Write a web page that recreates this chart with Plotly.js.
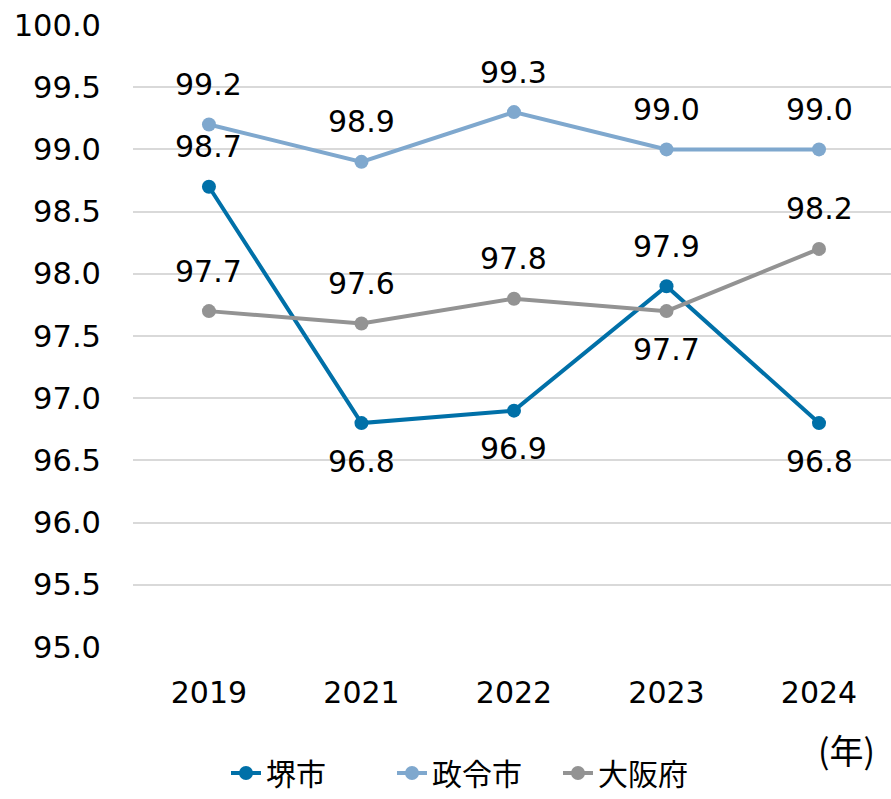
<!DOCTYPE html>
<html>
<head>
<meta charset="utf-8">
<script src="https://cdn.plot.ly/plotly-3.0.1.min.js"></script>
<style>html,body{margin:0;padding:0;background:#fff;}#chart{width:891px;height:799px;}</style>
</head>
<body>
<div id="chart"></div>
<script>
const years = ['2019', '2021', '2022', '2023', '2024'];
const seriesNames = ['堺市', '政令市', '大阪府'];
const sakai = [98.7, 96.8, 96.9, 97.9, 96.8];
const seirei = [99.2, 98.9, 99.3, 99.0, 99.0];
const osaka = [97.7, 97.6, 97.8, 97.7, 98.2];
const yTicks = [95.0, 95.5, 96.0, 96.5, 97.0, 97.5, 98.0, 98.5, 99.0, 99.5, 100.0];
const unitLabel = '(年)';

// label placement: 1 = above, -1 = below
const sides = [
  [1, -1, -1, 1, -1],
  [1, 1, 1, 1, 1],
  [1, 1, 1, -1, 1]
];

const colors = ['#0070A8', '#7FA8CE', '#939393'];
const allSeries = [sakai, seirei, osaka];
const FONT = 'DejaVu Sans, Verdana, sans-serif';
const JFONT = 'Noto Sans CJK JP, sans-serif';

const traces = allSeries.map((vals, i) => ({
  type: 'scatter',
  mode: 'lines+markers',
  name: seriesNames[i],
  x: years,
  y: vals,
  line: {color: colors[i], width: 4},
  marker: {color: colors[i], size: 14},
  cliponaxis: false
}));

const annotations = [];
allSeries.forEach((vals, i) => {
  vals.forEach((v, j) => {
    annotations.push({
      x: j, y: v, xref: 'x', yref: 'y',
      text: v.toFixed(1), showarrow: false,
      xanchor: 'center', yanchor: 'middle',
      yshift: sides[i][j] > 0 ? 40 : -38,
      font: {family: FONT, size: 30, color: '#000'}
    });
  });
});
annotations.push({
  xref: 'paper', yref: 'paper', x: (846 - 133) / 758, y: (647 - 749) / 622,
  xanchor: 'center', yanchor: 'middle', text: unitLabel, showarrow: false,
  font: {family: JFONT, size: 34, color: '#000'}
});

const layout = {
  width: 891, height: 799,
  margin: {l: 133, r: 0, t: 25, b: 152, autoexpand: false},
  paper_bgcolor: '#fff', plot_bgcolor: '#fff',
  showlegend: true,
  legend: {
    orientation: 'h', x: (226 - 133) / 758, xanchor: 'left',
    yref: 'container', y: 0, yanchor: 'bottom',
    font: {family: JFONT, size: 30, color: '#000'},
    entrywidth: 121, entrywidthmode: 'pixels',
    itemwidth: 30, tracegroupgap: 0
  },
  xaxis: {
    type: 'category', range: [-0.498, 4.472],
    showgrid: false, zeroline: false, showline: false, ticks: '',
    tickfont: {family: FONT, size: 30, color: '#000'},
    ticklabelstandoff: 25, fixedrange: true
  },
  yaxis: {
    range: [95, 100], tickvals: yTicks, ticktext: yTicks.map(v => v.toFixed(1)),
    showgrid: true, gridcolor: '#D9D9D9', gridwidth: 2,
    zeroline: false, showline: false, ticks: '',
    tickfont: {family: FONT, size: 30.5, color: '#000'},
    ticklabelstandoff: 31, fixedrange: true
  },
  annotations: annotations
};

Plotly.newPlot('chart', traces, layout, {displayModeBar: false, staticPlot: true});
</script>
</body>
</html>
